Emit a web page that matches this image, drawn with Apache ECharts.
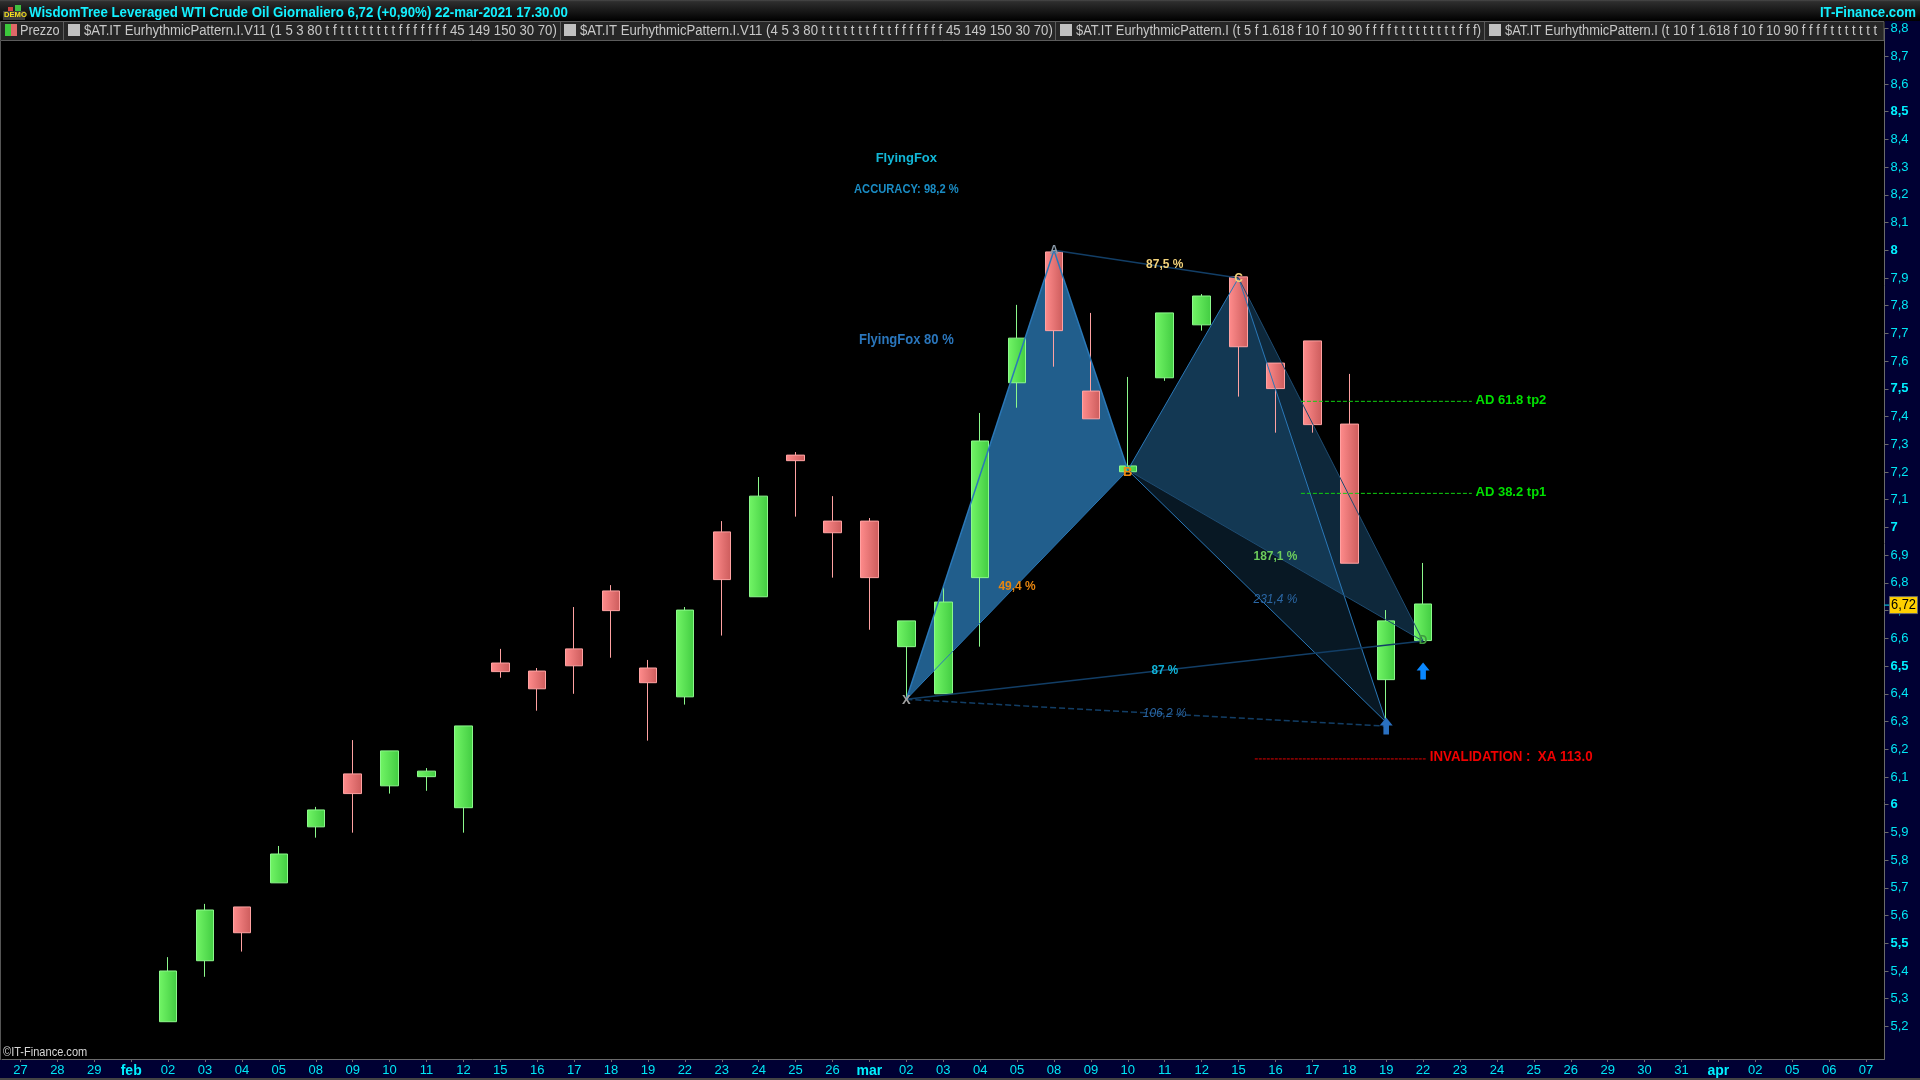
<!DOCTYPE html>
<html>
<head>
<meta charset="utf-8"/>
<title>WisdomTree Leveraged WTI Crude Oil</title>
<script src="https://cdn.jsdelivr.net/npm/echarts@6/dist/echarts.min.js"></script>
<style>
	body{margin:0;padding:0;background:#000;}
	#chart{width:1920px;height:1080px;}
</style>
</head>
<body>
<div id="chart"></div>
<script>
	// asse delle date, una etichetta per seduta
	var dates = ['27','28','29','feb','02','03','04','05','08','09','10','11','12','15','16','17','18','19','22','23','24','25','26','mar','02','03','04','05','08','09','10','11','12','15','16','17','18','19','22','23','24','25','26','29','30','31','apr','02','05','06','07'];
	var yTicks = [8.8,8.7,8.6,8.5,8.4,8.3,8.2,8.1,8,7.9,7.8,7.7,7.6,7.5,7.4,7.3,7.2,7.1,7,6.9,6.8,6.7,6.6,6.5,6.4,6.3,6.2,6.1,6,5.9,5.8,5.7,5.6,5.5,5.4,5.3,5.2];
	var yTicksBold = [8.5,8,7.5,7,6.5,6,5.5];

	// candele, dal 02 feb al 22 mar
	var firstCandle = 4;
	var opens = [5.217,5.437,5.631,5.718,5.92,6.111,6.068,6.101,5.989,6.511,6.482,6.562,6.771,6.493,6.389,6.984,6.75,7.261,7.023,7.023,6.57,6.40,6.819,7.522,7.994,7.492,7.201,7.54,7.731,7.904,7.593,7.673,7.373,6.451,6.592];
	var closes = [5.40,5.62,5.538,5.822,5.981,6.04,6.194,6.121,6.284,6.48,6.418,6.501,6.70,6.44,6.702,6.812,7.113,7.241,6.981,6.819,6.663,6.731,7.312,7.683,7.71,7.392,7.222,7.774,7.835,7.652,7.501,7.371,6.871,6.663,6.724];
	var lows = [5.217,5.379,5.47,5.718,5.881,5.899,6.04,6.05,5.899,6.458,6.339,6.40,6.53,6.231,6.361,6.61,6.75,7.039,6.819,6.631,6.385,6.40,6.57,7.432,7.58,7.392,7.201,7.529,7.71,7.472,7.342,7.342,6.871,6.305,6.592];
	var highs = [5.45,5.642,5.631,5.851,5.992,6.233,6.194,6.132,6.284,6.562,6.493,6.713,6.792,6.522,6.713,7.023,7.182,7.272,7.113,7.034,6.663,6.785,7.413,7.803,7.994,7.774,7.543,7.774,7.842,7.904,7.593,7.673,7.554,6.702,6.872];
	var lastPrice = 6.72;

	// punti del pattern [indice seduta, prezzo]
	var pX = [24,6.38];
	var pA = [28,8.0];
	var pB = [30,7.207];
	var pC = [33,7.9];
	var pD = [38,6.59];
	var pD2 = [37,6.297];
	var pD2Low = [37,6.283];

	// livelli orizzontali [inizio, fine, prezzo]
	var levelTp2 = [34.69,39.32,7.455];
	var levelTp1 = [34.69,39.32,7.123];
	var levelInv = [33.44,38.07,6.165];

	// frecce
	var arrowStrong = [[38,6.482]];
	var arrowSoft = [[37,6.284]];

	// testi sul grafico
	var noteTexts = ['FlyingFox','ACCURACY: 98,2 %','FlyingFox 80 %','87,5 %','49,4 %','187,1 %','231,4 %','87 %','106,2 %','A','B','C','D','X','AD 61.8 tp2','AD 38.2 tp1','INVALIDATION :  XA 113.0'];
	var noteIndex = [24,24,24,31,27,34,34,31,31,28,30,33,38,24,39.42,39.42,38.18];
	var notePrices = [8.33,8.218,7.676,7.95,6.789,6.894,6.74,6.483,6.328,7.998,7.2,7.897,6.59,6.375,7.46,7.128,6.17];
	var noteKinds = ['title','accuracy','name','bc','ab','cd','cd2','xd','xd2','ptA','ptB','ptC','ptD','ptX','tp','tp','inv'];

	var legendParts = [
		['$AT.IT EurhythmicPattern.I.V11 (1 5 3 80 t f t t t t t t t t f f f f f f f 45 149 150 30 70)',68,84,0.94],
		['$AT.IT EurhythmicPattern.I.V11 (4 5 3 80 t t t t t t t f t t f f f f f f f 45 149 150 30 70)',564,580,0.94],
		['$AT.IT EurhythmicPattern.I (t 5 f 1.618 f 10 f 10 90 f f f f t t t t t t t t t f f f)',1060,1076,0.92],
		['$AT.IT EurhythmicPattern.I (t 10 f 1.618 f 10 f 10 90 f f f f t t t t t t t t t f f f)',1489,1505,0.92]
	];
	var legendSeparators = [63,560,1055,1484];

	var sans = '"Liberation Sans",Arial,sans-serif';
	var cyan = '#00e6f5';
	var noteStyles = {
		title:{color:'#12b8d8',size:13,weight:'bold',sx:1},
		accuracy:{color:'#1a8cc4',size:12,weight:'bold',sx:0.93},
		name:{color:'#2a76bc',size:14,weight:'bold',sx:0.93},
		bc:{color:'#f2d27a',size:13,weight:'bold',sx:0.92},
		ab:{color:'#e8860f',size:13,weight:'bold',sx:0.92},
		cd:{color:'#6ccc5c',size:13,weight:'bold',sx:0.92},
		cd2:{color:'#2a66a4',size:13,weight:'normal',style:'italic',sx:0.92},
		xd:{color:'#10b4d8',size:13,weight:'bold',sx:0.9},
		xd2:{color:'#2a66a4',size:13,weight:'normal',style:'italic',sx:0.92},
		ptA:{color:'#8a9aa8',size:12,weight:'bold',sx:1},
		ptB:{color:'#f08a10',size:13,weight:'bold',sx:1},
		ptC:{color:'#f2d27a',size:12,weight:'bold',sx:1},
		ptD:{color:'#3f9c3f',size:12,weight:'bold',sx:1},
		ptX:{color:'#a0a0a0',size:13,weight:'bold',sx:1},
		tp:{color:'#00e000',size:13,weight:'bold',align:'left',sx:1},
		inv:{color:'#f00000',size:14,weight:'bold',align:'left',sx:0.95}
	};

	function sideGradient(c1,c2){
		return new echarts.graphic.LinearGradient(0,0,1,0,[{offset:0,color:c1},{offset:1,color:c2}]);
	}
	function candleData(){
		var out = [];
		for(var i=0;i<opens.length;i++){
			out.push([i+firstCandle,opens[i],closes[i],lows[i],highs[i]]);
		}
		return out;
	}
	function segment(p1,p2){
		return [p1,p2];
	}
	function levelLine(level){
		return [[level[0],level[2]],[level[1],level[2]]];
	}
	function legSeries(data,color,width,type,z){
		return {
			type:'line',xAxisIndex:1,data:data,symbol:'none',silent:true,animation:false,z:z,
			lineStyle:{color:color,width:width,type:type||'solid'}
		};
	}
	function polygonSeries(points,fill,z){
		return {
			type:'custom',xAxisIndex:1,data:points,z:z,silent:true,animation:false,
			encode:{x:0,y:1},
			renderItem:function(params,api){
				if(params.dataIndex!=0){return null;}
				var pts = [];
				for(var i=0;i<points.length;i++){pts.push(api.coord(points[i]));}
				return {type:'polygon',shape:{points:pts},style:{fill:fill}};
			}
		};
	}
	function noteData(){
		var out = [];
		for(var i=0;i<noteTexts.length;i++){out.push([noteIndex[i],notePrices[i],i]);}
		return out;
	}

	var chart = echarts.init(document.getElementById('chart'));

	var graphics = [
		{type:'rect',z:-10,shape:{x:0,y:0,width:1920,height:21},style:{fill:new echarts.graphic.LinearGradient(0,0,0,1,[{offset:0,color:'#4a4a4a'},{offset:0.08,color:'#2e2e2e'},{offset:1,color:'#000'}])}},
		{type:'rect',z:-10,shape:{x:1885,y:21,width:35,height:1059},style:{fill:'#000033'}},
		{type:'rect',z:-10,shape:{x:0,y:1060,width:1920,height:20},style:{fill:'#000033'}},
		{type:'rect',z:-9,shape:{x:0,y:1078,width:1920,height:2},style:{fill:'#444'}},
		{type:'rect',z:-9,shape:{x:0,y:41,width:1,height:1019},style:{fill:'#555'}},
		{type:'rect',z:4,shape:{x:0.5,y:21.5,width:1883.5,height:19},style:{fill:'#262626',stroke:'#5c5c5c',lineWidth:1}},
		// barra del titolo
		{type:'text',z:5,x:29,y:5,scaleX:0.885,style:{text:'WisdomTree Leveraged WTI Crude Oil Giornaliero 6,72 (+0,90%) 22-mar-2021 17.30.00',fill:'#14f0ff',font:'bold 15px '+sans}},
		{type:'text',z:5,x:1916,y:5,scaleX:0.88,style:{text:'IT-Finance.com',align:'right',fill:'#14f0ff',font:'bold 15px '+sans}},
		// icona demo
		{type:'rect',z:5,shape:{x:3,y:11,width:22,height:9},style:{fill:'#3a3a3a'}},
		{type:'text',z:6,x:4,y:11,scaleX:0.95,style:{text:'DEMO',fill:'#f5e020',font:'bold 8px '+sans}},
		{type:'rect',z:5,shape:{x:8,y:7,width:5,height:4},style:{fill:'#d04040'}},
		{type:'rect',z:5,shape:{x:15,y:5,width:6,height:6},style:{fill:'#40c040'}},
		// legenda
		{type:'rect',z:5,shape:{x:5,y:24,width:6,height:12},style:{fill:'#3cc83c'}},
		{type:'rect',z:5,shape:{x:11,y:24,width:6,height:12},style:{fill:'#e06868'}},
		{type:'text',z:5,x:20,y:24,scaleX:0.91,style:{text:'Prezzo',fill:'#c8c8c8',font:'14px '+sans}},
		{type:'text',z:5,x:3,y:1047,scaleX:0.92,style:{text:'©IT-Finance.com',fill:'#d8d8d8',font:'12px '+sans}}
	];
	legendSeparators.forEach(function(x){
		graphics.push({type:'rect',z:5,shape:{x:x,y:21,width:1,height:20},style:{fill:'#5c5c5c'}});
	});
	legendParts.forEach(function(p){
		graphics.push({type:'rect',z:5,shape:{x:p[1],y:24,width:12,height:12},style:{fill:'#c0c0c0'}});
		graphics.push({type:'text',z:5,x:p[2],y:24,scaleX:p[3],style:{text:p[0],fill:'#c8c8c8',font:'14px '+sans,width:(1883-p[2])/p[3],overflow:'truncate',ellipsis:''}});
	});

	var option = {
		backgroundColor:'#000',
		animation:false,
		graphic:graphics,
		grid:{left:2,top:28.5,right:35.5,bottom:21,containLabel:false},
		xAxis:[
			{
				type:'category',data:dates,boundaryGap:true,
				axisLine:{lineStyle:{color:'#6a6a6a'}},
				axisTick:{show:true,alignWithLabel:true,interval:0,length:3,lineStyle:{color:'#6a6a6a'}},
				axisLabel:{
					interval:0,margin:5,color:cyan,fontFamily:sans,fontSize:13,
					formatter:function(v){
						return (v=='feb'||v=='mar'||v=='apr') ? '{m|'+v+'}' : v;
					},
					rich:{m:{color:'#00f0ff',fontFamily:sans,fontSize:14,fontWeight:'bold'}}
				},
				splitLine:{show:false}
			},
			{type:'value',min:-0.5,max:50.5,show:false,splitLine:{show:false}}
		],
		yAxis:{
			type:'value',position:'right',min:5.0825,max:8.8,scale:true,
			axisLine:{show:true,onZero:false,lineStyle:{color:'#6a6a6a'}},
			axisTick:{show:true,length:4,customValues:yTicks,lineStyle:{color:'#6a6a6a'}},
			axisLabel:{
				margin:6,color:cyan,fontFamily:sans,fontSize:13,customValues:yTicks,
				showMinLabel:true,showMaxLabel:true,
				formatter:function(v){
					var t = String(Math.round(v*10)/10).replace('.',',');
					return yTicksBold.indexOf(Math.round(v*10)/10)>=0 ? '{b|'+t+'}' : t;
				},
				rich:{b:{color:'#00f0ff',fontFamily:sans,fontSize:13,fontWeight:'bold'}}
			},
			splitLine:{show:false}
		},
		series:[
			polygonSeries([pX,pA,pB],'rgba(42,120,180,0.78)',1),
			polygonSeries([pB,pC,pD],'rgba(42,120,180,0.33)',1),
			polygonSeries([pB,pC,pD2],'rgba(42,120,180,0.2)',1),
			{
				type:'candlestick',xAxisIndex:0,data:candleData(),barWidth:18,z:2,
				encode:{x:0,y:[1,2,3,4]},
				itemStyle:{
					color:sideGradient('#72f566','#42cc42'),
					color0:sideGradient('#ff8c8c','#cc5c5c'),
					borderColor:'#8cf98c',
					borderColor0:'#ffa2a2',
					borderWidth:1
				}
			},
			legSeries(segment(pX,pA),'#2a78b8',1.5,'solid',3),
			legSeries(segment(pA,pB),'#2a78b8',1.5,'solid',3),
			legSeries(segment(pB,pX),'#2a78b8',1,'solid',3),
			legSeries(segment(pB,pC),'#2a78b8',1,'solid',3),
			legSeries(segment(pC,pD2),'#2a78b8',1,'solid',3),
			legSeries(segment(pD2,pB),'#2a78b8',1,'solid',3),
			legSeries(segment(pC,pD),'#1e4c72',1,'solid',3),
			legSeries(segment(pD,pB),'#1e4c72',1,'solid',3),
			legSeries(segment(pA,pC),'#123e66',1.5,'solid',3),
			legSeries(segment(pX,pD),'#123e66',1.5,'solid',3),
			legSeries(segment(pX,pD2Low),'#123e66',1.5,'dashed',3),
			legSeries(levelLine(levelTp2),'#10d010',1,'dashed',3),
			legSeries(levelLine(levelTp1),'#10d010',1,'dashed',3),
			legSeries(levelLine(levelInv),'#e00000',1,[3,1],3),
			{
				type:'scatter',xAxisIndex:1,data:arrowStrong,z:4,silent:true,
				symbol:'path://M7 0 L14 8 L10 8 L10 17 L4 17 L4 8 L0 8 Z',symbolSize:[13,17],
				itemStyle:{color:'#0a88ff',opacity:1}
			},
			{
				type:'scatter',xAxisIndex:1,data:arrowSoft,z:4,silent:true,
				symbol:'path://M7 0 L14 8 L10 8 L10 17 L4 17 L4 8 L0 8 Z',symbolSize:[13,17],
				itemStyle:{color:'#2a70c0',opacity:1}
			},
			{
				type:'custom',xAxisIndex:1,data:noteData(),z:5,silent:true,animation:false,
				encode:{x:0,y:1},clip:false,
				renderItem:function(params,api){
					var i = api.value(2);
					var st = noteStyles[noteKinds[i]];
					var pt = api.coord([api.value(0),api.value(1)]);
					return {
						type:'text',x:pt[0],y:pt[1],scaleX:st.sx,
						style:{
							text:noteTexts[i],fill:st.color,
							font:(st.style||'normal')+' '+st.weight+' '+st.size+'px '+sans,
							align:st.align||'center',verticalAlign:'middle'
						}
					};
				}
			},
			{
				// ultimo prezzo sulla scala
				type:'custom',xAxisIndex:1,data:[[50.5,lastPrice]],z:6,silent:true,animation:false,
				encode:{x:0,y:1},clip:false,
				renderItem:function(params,api){
					var pt = api.coord([api.value(0),api.value(1)]);
					return {
						type:'group',
						children:[
							{type:'line',shape:{x1:pt[0],y1:pt[1],x2:pt[0]+5,y2:pt[1]},style:{stroke:'#00e6f5',lineWidth:1}},
							{type:'rect',shape:{x:pt[0]+5,y:pt[1]-8.5,width:28,height:17},style:{fill:'#ffd000',stroke:'#6a6a6a',lineWidth:1}},
							{type:'text',x:pt[0]+19,y:pt[1]+0.5,scaleX:0.92,style:{text:String(api.value(1)).replace('.',','),fill:'#000',font:'14px '+sans,align:'center',verticalAlign:'middle'}}
						]
					};
				}
			}
		]
	};
	chart.setOption(option);
</script>
</body>
</html>
